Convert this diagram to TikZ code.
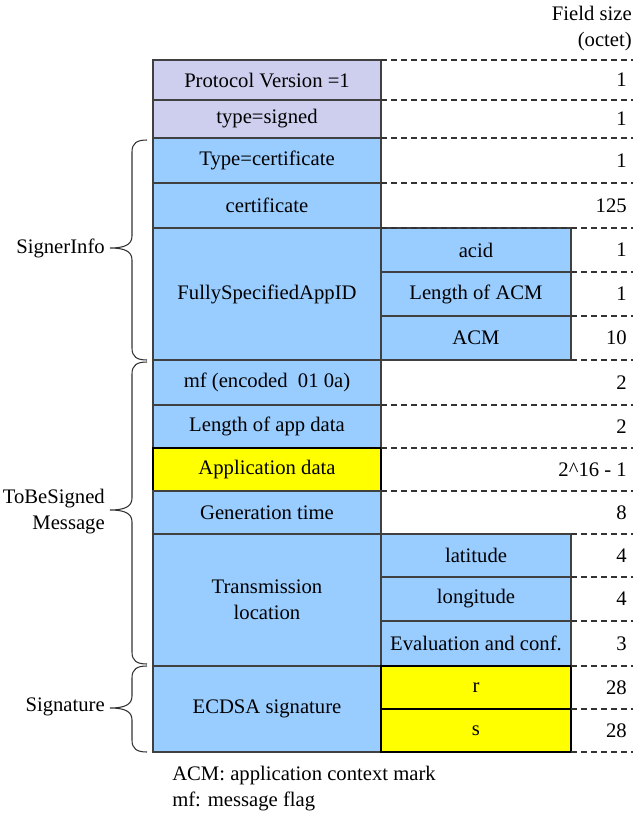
\documentclass[tikz,border=0pt]{standalone}
\usepackage{fontspec}
\setmainfont{Liberation Serif}
\newfontfamily\tnrfont{Liberation Serif}
\definecolor{hdrLav}{RGB}{206, 206, 238}
\definecolor{fieldBlue}{RGB}{153, 204, 255}
\definecolor{fieldYel}{RGB}{255, 255, 0}
\usetikzlibrary{positioning}

\tikzset{
    txt/.style={font=\tnrfont\fontsize{15.5}{19.5}\selectfont},
    cell/.style={txt, draw=black!75, line width=0.9pt, inner sep=0pt, align=center},
    keycell/.style={draw=black, line width=1.1pt},
    sizecol/.style={txt, anchor=east, inner sep=0pt},
    guide/.style={dashed, dash pattern=on 4.5pt off 3pt, line width=0.8pt, black!80},
    grpbrace/.style={line width=0.8pt, black!80},
}

% cell: name, x1, y1, x2, y2, style, text (pixel units)
\newcommand{\fieldcell}[7]{%
    \node[cell, #6, minimum width={(#4-#2)*0.75pt}, minimum height={(#5-#3)*0.75pt}]
        (#1) at ({(#2+#4)/2},{(#3+#5)/2}) {#7};
}
% brace: top, middle, bottom (pixel units)
\newcommand{\grpbrace}[3]{%
    \draw[grpbrace] (147,#1) .. controls (137,#1) and (132,#1+3) .. (132,#1+12)
        -- (132,#2-12) .. controls (132,#2-3) and (124,#2) .. (110,#2)
        .. controls (124,#2) and (132,#2+3) .. (132,#2+12)
        -- (132,#3-12) .. controls (132,#3-3) and (137,#3) .. (147,#3);
}

\begin{document}
\begin{tikzpicture}[x=0.75pt, y=-0.75pt]
    \useasboundingbox (0,0) rectangle (637,814);

    \node[txt, anchor=north east, align=right, inner sep=0pt] (hdr) at (632,6) {Field size\\(octet)};

    % Main column
    \fieldcell{pv}{153}{60}{381}{100}{fill=hdrLav}{Protocol Version =1}
    \fieldcell{ts}{153}{100}{381}{138}{fill=hdrLav}{type=signed}
    \fieldcell{tc}{153}{138}{381}{183}{fill=fieldBlue}{Type=certificate}
    \fieldcell{cert}{153}{183}{381}{228}{fill=fieldBlue}{certificate}
    \fieldcell{fsa}{153}{228}{381}{360}{fill=fieldBlue}{FullySpecifiedAppID}
    \fieldcell{mf}{153}{360}{381}{405}{fill=fieldBlue}{mf (encoded~~01 0a)}
    \fieldcell{lad}{153}{405}{381}{448}{fill=fieldBlue}{Length of app data}
    \fieldcell{ad}{153}{448}{381}{491}{fill=fieldYel, keycell}{Application data}
    \fieldcell{gt}{153}{491}{381}{534}{fill=fieldBlue}{Generation time}
    \fieldcell{tl}{153}{534}{381}{666}{fill=fieldBlue}{Transmission\\location}
    \fieldcell{ecdsa}{153}{666}{381}{752}{fill=fieldBlue}{ECDSA signature}

    % Sub fields
    \fieldcell{acid}{381}{228}{571}{272}{fill=fieldBlue}{acid}
    \fieldcell{lacm}{381}{272}{571}{316}{fill=fieldBlue}{Length of ACM}
    \fieldcell{acm}{381}{316}{571}{360}{fill=fieldBlue}{ACM}
    \fieldcell{lat}{381}{534}{571}{577}{fill=fieldBlue}{latitude}
    \fieldcell{lon}{381}{577}{571}{621}{fill=fieldBlue}{longitude}
    \fieldcell{evc}{381}{621}{571}{666}{fill=fieldBlue}{Evaluation and conf.}
    \fieldcell{sr}{381}{666}{571}{709}{fill=fieldYel, keycell}{r}
    \fieldcell{ss}{381}{709}{571}{752}{fill=fieldYel, keycell}{s}

    % Dashed row guides
    \foreach \xa/\y in {381/60, 381/100, 381/138, 381/183, 381/228, 571/272, 571/316,
                        571/360, 381/405, 381/448, 381/491, 571/534, 571/577, 571/621,
                        571/666, 571/709, 571/752} {
        \draw[guide] (\xa,\y) -- (633,\y);
    }

    % Field sizes
    \foreach \y/\v in {80/1, 119/1, 161/1, 206/125, 250/1, 294/1, 338/10, 383/2,
                       427/2, 470/{2\string^16 - 1}, 513/8, 556/4, 599/4, 644/3, 688/28, 731/28} {
        \node[sizecol] (sz\y) at (627,\y) {\v};
    }

    % Group braces
    \grpbrace{140}{248}{360}
    \grpbrace{362}{510}{664}
    \grpbrace{666}{708}{752}
    \node[txt, anchor=east, inner sep=0pt] (signer) at (105,248) {SignerInfo};
    \node[txt, anchor=east, align=right, inner sep=0pt] (tbs) at (105,512) {ToBeSigned\\Message};
    \node[txt, anchor=east, inner sep=0pt] (sig) at (105,707) {Signature};

    % Notes
    \node[txt, anchor=north west, align=left, inner sep=0pt]
        (notes) at (172,766) {ACM: application context mark\\mf: message flag};
\end{tikzpicture}
\end{document}
